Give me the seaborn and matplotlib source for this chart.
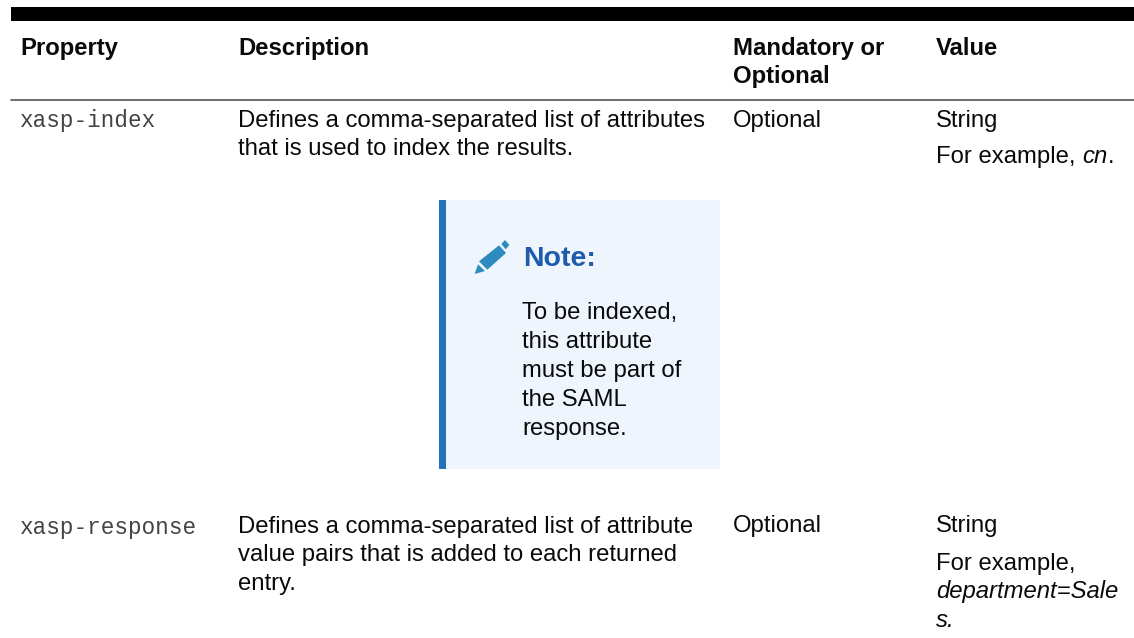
import matplotlib.pyplot as plt
import seaborn as sns
from matplotlib.patches import Polygon, Rectangle

# table text
headers = ["Property", "Description", "Mandatory or\nOptional", "Value"]
properties = ["xasp-index", "xasp-response"]
descriptions = [
    ["Defines a comma-separated list of attributes", "that is used to index the results."],
    ["Defines a comma-separated list of attribute", "value pairs that is added to each returned", "entry."],
]
mandatory = ["Optional", "Optional"]
note_title = "Note:"
note_lines = ["To be indexed,", "this attribute", "must be part of", "the SAML", "response."]

sns.set_theme(style="white")
plt.rcParams["font.family"] = ["Liberation Sans", "DejaVu Sans"]

FS = 17.2
col_x = [20, 238, 733, 936]

fig = plt.figure(figsize=(11.34, 6.38), dpi=100)
ax = fig.add_axes([0, 0, 1, 1])
ax.set_xlim(0, 1134)
ax.set_ylim(638, 0)
ax.axis("off")
sns.despine(ax=ax, left=True, bottom=True)


def put(x, y, s, **kw):
    kw.setdefault("fontsize", FS)
    kw.setdefault("color", "#0a0a0a")
    return ax.text(x, y, s, va="baseline", ha="left", **kw)


def put_end(t, s, **kw):
    # next piece of text starts where the last one stopped
    bb = t.get_window_extent(fig.canvas.get_renderer())
    x = ax.transData.inverted().transform((bb.x1, bb.y0))[0]
    return put(x, t.get_position()[1], s, **kw)


# header bar and rule
ax.add_patch(Rectangle((11, 6.5), 1123, 14, fc="black", ec="none"))
ax.plot([11, 1134], [99.5, 99.5], color="#555555", lw=1.2)

# header row
put(col_x[0], 55, headers[0], fontweight="bold")
put(col_x[1], 55, headers[1], fontweight="bold")
h1, h2 = headers[2].split("\n")
put(col_x[2], 55, h1, fontweight="bold")
put(col_x[2], 83, h2, fontweight="bold")
put(col_x[3], 55, headers[3], fontweight="bold")

# first row
put(col_x[0], 127, properties[0], family="Liberation Mono", fontsize=16.3, color="#444444")
for s, y in zip(descriptions[0], [127, 155]):
    put(col_x[1], y, s)
put(col_x[2], 127, mandatory[0])
put(col_x[3], 127, "String")
t = put(col_x[3], 163, "For example, ")
t = put_end(t, "cn", style="italic")
put_end(t, ".")

# note box
ax.add_patch(Rectangle((439, 200), 281, 269, fc="#eef5fd", ec="none"))
ax.add_patch(Rectangle((439, 200), 6.5, 269, fc="#2372b9", ec="none"))


def zoomed(points):
    return [(430 + px / 3, 190 + py / 3) for px, py in points]


pencil = "#2e8bc0"
ax.add_patch(Polygon(zoomed([(147, 214), (207, 166), (228, 189), (172, 239)]), fc=pencil, ec="none"))
ax.add_patch(Polygon(zoomed([(214, 162), (225, 150), (238, 165), (227, 178)]), fc=pencil, ec="none"))
ax.add_patch(Polygon(zoomed([(144, 223), (134, 252), (165, 243)]), fc=pencil, ec="none"))

put(523, 266, note_title, fontsize=20.5, fontweight="bold", color="#1f5bad")
for s, y in zip(note_lines, [319, 348, 377, 406, 435]):
    put(522, y, s)

# second row
put(col_x[0], 534, properties[1], family="Liberation Mono", fontsize=16.3, color="#444444")
for s, y in zip(descriptions[1], [533, 561, 590]):
    put(col_x[1], y, s)
put(col_x[2], 532, mandatory[1])
put(col_x[3], 532, "String")
put(col_x[3], 570, "For example,")
put(col_x[3], 598, "department=Sale", style="italic")
put(col_x[3], 627, "s.", style="italic")

fig.savefig("out.png", dpi=100)
